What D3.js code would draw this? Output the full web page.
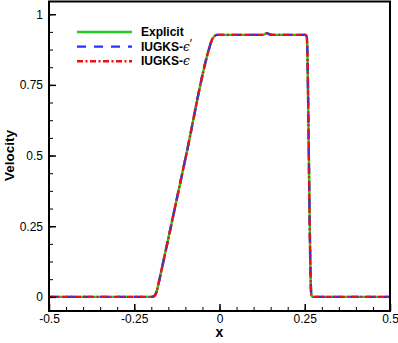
<!DOCTYPE html>
<html>
<head>
<meta charset="utf-8" />
<title>Velocity profile</title>
<style>
body { margin: 0; background: #fff; }
svg { display: block; font-family: "Liberation Sans", Arial, sans-serif; }
.tick text { font-size: 12px; fill: #000; }
</style>
</head>
<body>
<div id="graph"></div>
<script src="https://d3js.org/d3.v7.min.js"></script>
<script>
// values
var xPos = [-0.5, -0.2, -0.193, -0.188, -0.183, -0.175, -0.1, -0.03, -0.022, -0.015, -0.008, 0,
            0.1, 0.125, 0.133, 0.139, 0.145, 0.153, 0.2, 0.252, 0.256, 0.258, 0.261, 0.264, 0.267, 0.269, 0.272, 0.5];
var velocity = [0, 0, 0.002, 0.008, 0.025, 0.068, 0.489, 0.88, 0.91, 0.922, 0.927, 0.927,
            0.927, 0.927, 0.93, 0.933, 0.93, 0.927, 0.927, 0.927, 0.92, 0.85, 0.6, 0.3, 0.08, 0.01, 0, 0];
var seriesNames = ["Explicit", "IUGKS-\u03f5\u2032", "IUGKS-\u03f5"];
var xTicks = [-0.5, -0.25, 0, 0.25, 0.5];
var yTicks = [0, 0.25, 0.5, 0.75, 1];

!(function(){
    "use strict";
    var width = 398, height = 343;
    var margin = {top: 1.5, left: 49, right: 8, bottom: 32};
    var chartWidth = width - margin.left - margin.right;
    var chartHeight = height - margin.top - margin.bottom;

    var svg = d3.select("#graph").append("svg")
        .attr("width", width).attr("height", height);
    var chart = svg.append("g")
        .attr("transform", "translate(" + [margin.left, margin.top] + ")");

    var xScale = d3.scaleLinear().domain([-0.5, 0.5]).range([0, chartWidth]);
    var yScale = d3.scaleLinear().domain([-0.05, 1.045]).range([chartHeight, 0]);

    var data = xPos.map(function(x, i){ return {x: x, v: velocity[i]}; });

    var styles = [
        {color: "#22cc22", dash: null},
        {color: "#2233ff", dash: "9,8"},
        {color: "#ee1111", dash: "6,2.5,2,2.5"}
    ];

    var lineGen = d3.line()
        .x(function(d){ return xScale(d.x); })
        .y(function(d){ return yScale(d.v); })
        .curve(d3.curveMonotoneX);

    styles.forEach(function(s){
        chart.append("path")
            .datum(data)
            .attr("d", lineGen)
            .attr("fill", "none")
            .attr("stroke", s.color)
            .attr("stroke-width", 2.4)
            .attr("stroke-dasharray", s.dash);
    });

    // minor ticks
    var xMinor = d3.range(-0.5, 0.5001, 0.05);
    var yMinor = d3.range(0, 1.001, 0.0625);
    chart.append("g").attr("transform", "translate(0," + chartHeight + ")")
        .call(d3.axisBottom(xScale).tickValues(xMinor).tickSize(-4).tickFormat(""))
        .call(function(g){ g.select(".domain").remove(); });
    chart.append("g")
        .call(d3.axisLeft(yScale).tickValues(yMinor).tickSize(-4).tickFormat(""))
        .call(function(g){ g.select(".domain").remove(); });

    // major ticks
    chart.append("g").attr("transform", "translate(0," + chartHeight + ")")
        .call(d3.axisBottom(xScale).tickValues(xTicks).tickSize(-7).tickPadding(3)
            .tickFormat(function(d){ return String(d); }))
        .call(function(g){ g.select(".domain").remove(); g.selectAll("line").attr("stroke-width", 1.5); });
    chart.append("g")
        .call(d3.axisLeft(yScale).tickValues(yTicks).tickSize(-7).tickPadding(6)
            .tickFormat(function(d){ return String(d); }))
        .call(function(g){ g.select(".domain").remove(); g.selectAll("line").attr("stroke-width", 1.5); });

    chart.selectAll(".tick text").attr("font-family", "Liberation Sans, Arial, sans-serif");

    // frame
    chart.append("rect")
        .attr("width", chartWidth).attr("height", chartHeight)
        .attr("fill", "none").attr("stroke", "#000").attr("stroke-width", 2);

    // axis titles
    svg.append("text")
        .attr("x", margin.left + xScale(0)).attr("y", 337)
        .attr("text-anchor", "middle")
        .attr("font-weight", "bold").attr("font-size", 14)
        .text("x");
    svg.append("text")
        .attr("transform", "translate(14," + (margin.top + yScale(0.5)) + ") rotate(-90)")
        .attr("text-anchor", "middle")
        .attr("font-weight", "bold").attr("font-size", 13.5)
        .text("Velocity");

    // legend
    var legend = svg.append("g").attr("transform", "translate(77,32)");
    seriesNames.forEach(function(name, i){
        var row = legend.append("g").attr("transform", "translate(0," + (i * 14.6) + ")");
        row.append("line")
            .attr("x1", 0).attr("x2", 55)
            .attr("stroke", styles[i].color).attr("stroke-width", 2.4)
            .attr("stroke-dasharray", styles[i].dash);
        var t = row.append("text")
            .attr("x", 64).attr("y", 4)
            .attr("font-weight", "bold").attr("font-size", 12);
        if (i === 0) {
            t.text(name);
        } else {
            t.append("tspan").text("IUGKS-");
            t.append("tspan").attr("font-weight", "normal").attr("font-family", "DejaVu Serif")
                .attr("font-style", "italic").text("\u03f5");
            if (i === 1) t.append("tspan").attr("font-weight", "normal").attr("dy", -3).text("\u2032");
        }
    });
}());
</script>
</body>
</html>
